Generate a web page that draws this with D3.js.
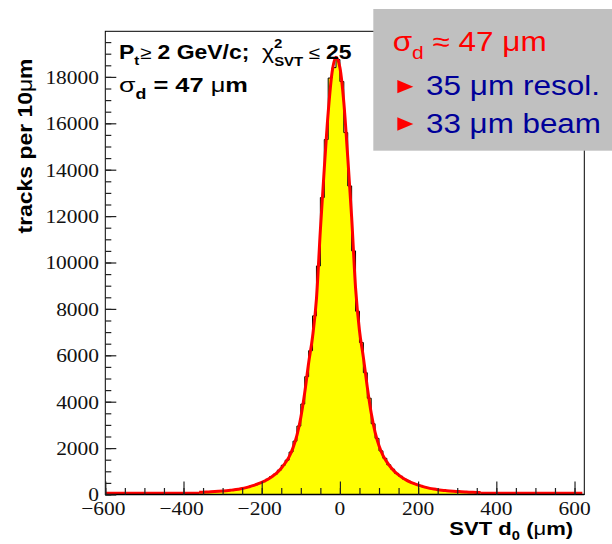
<!DOCTYPE html>
<html>
<head>
<meta charset="utf-8">
<script src="https://cdn.jsdelivr.net/npm/d3@7"></script>
<style>
  html, body { margin: 0; padding: 0; background: #ffffff; }
  svg { display: block; }
</style>
</head>
<body>
<script>
// ---------------- data ----------------
const xTickValues = [-600, -400, -200, 0, 200, 400, 600];
const xTickLabels = ["\u2212600", "\u2212400", "\u2212200", "0", "200", "400", "600"];
const yTickValues = [0, 2000, 4000, 6000, 8000, 10000, 12000, 14000, 16000, 18000];
const yTickLabels = ["0", "2000", "4000", "6000", "8000", "10000", "12000", "14000", "16000", "18000"];

// histogram: 10 um bins starting at -360
const binStart = -360;
const binWidth = 10;
const histCounts = [
  90, 110, 105, 130, 125, 150, 160, 170, 195, 220,
  240, 280, 310, 375, 420, 495, 550, 660, 770, 880,
  1050, 1260, 1480, 1830, 2300, 2950, 3900, 5080, 6200, 7700,
  9850, 12800, 15300, 17950, 18400, 18750, 17800, 15600, 13300, 10500,
  7900, 6550, 5250, 4150, 3050, 2420, 1880, 1560, 1280, 1090,
  910, 790, 665, 585, 500, 440, 375, 335, 280, 250,
  215, 200, 175, 165, 145, 138, 125, 118, 105, 100,
  90, 88
];

// fit curve sampled every 10 um from -360 to 360
const fitStart = -360;
const fitStep = 10;
const fitValues = [
  95, 100, 109, 119, 129, 139, 151, 166, 184, 203,
  228, 257, 296, 345, 395, 454, 523, 602, 700, 818,
  956, 1132, 1357, 1623, 2010, 2545, 3320, 4390, 5670, 6790,
  8430, 11390, 14040, 16460, 18200, 18850,
  18400,
  16900, 14540, 11960, 8910, 7070, 5910, 4630, 3510, 2680, 2105,
  1690, 1407, 1173, 988, 844, 722, 620, 538, 467, 406,
  355, 305, 264, 233, 207, 187, 170, 154, 141, 131,
  121, 111, 101, 95, 90, 86
];
// flat fit level outside the histogram range
const tailX = [[-600, -360], [360, 620]];
const tailValue = 50;

// ---------------- layout ----------------
const W = 612, H = 544;
const x = d3.scaleLinear().domain([-600, 625]).range([105.3, 584.3]);
const y = d3.scaleLinear().domain([0, 20000]).range([494.5, 30.5]);
const frameTop = 31.3;

const svg = d3.select("body").append("svg").attr("width", W).attr("height", H);

// histogram fill + outline
const histPts = histCounts.map((v, i) => ({ x: binStart + i * binWidth, v }));
histPts.push({ x: binStart + histCounts.length * binWidth, v: histCounts[histCounts.length - 1] });

const area = d3.area().curve(d3.curveStepAfter)
  .x(d => x(d.x)).y0(y(0)).y1(d => y(d.v));
svg.append("path").datum(histPts).attr("d", area).attr("fill", "#ffff00").attr("stroke", "none");

const stepLine = d3.line().curve(d3.curveStepAfter).x(d => x(d.x)).y(d => y(d.v));
svg.append("path").datum(histPts).attr("d", stepLine)
  .attr("fill", "none").attr("stroke", "#000").attr("stroke-width", 1);

// fit curve
const fitPts = fitValues.map((v, i) => ({ x: fitStart + i * fitStep, v }));
const fitLine = d3.line().curve(d3.curveMonotoneX).x(d => x(d.x)).y(d => y(d.v));
svg.append("path").datum(fitPts).attr("d", fitLine)
  .attr("fill", "none").attr("stroke", "#ff0000").attr("stroke-width", 3).attr("stroke-linejoin", "round");
tailX.forEach(seg => {
  svg.append("path").datum(seg.map(xx => ({ x: xx, v: tailValue })))
    .attr("d", d3.line().x(d => x(d.x)).y(d => y(d.v)))
    .attr("fill", "none").attr("stroke", "#ff0000").attr("stroke-width", 3);
});

// frame
svg.append("rect").attr("x", x(-600)).attr("y", frameTop)
  .attr("width", x(625) - x(-600)).attr("height", y(0) - frameTop)
  .attr("fill", "none").attr("stroke", "#000").attr("stroke-width", 1);
svg.append("line").attr("x1", x(-600)).attr("x2", x(625)).attr("y1", y(0)).attr("y2", y(0))
  .attr("stroke", "#000").attr("stroke-width", 1.6);

// axes ticks (inside, ROOT style) via d3 axes
const xAxisMajor = d3.axisTop(x).tickValues(xTickValues).tickSize(13).tickFormat("");
const xAxisMinor = d3.axisTop(x).tickValues(d3.range(-600, 625, 50)).tickSize(6.5).tickFormat("");
[xAxisMinor, xAxisMajor].forEach(ax => {
  const g = svg.append("g").attr("transform", `translate(0,${y(0)})`).call(ax);
  g.select(".domain").remove();
  g.selectAll("line").attr("stroke", "#222").attr("stroke-width", 1.2);
});
const yAxisMajor = d3.axisRight(y).tickValues(yTickValues).tickSize(11).tickFormat("");
const yAxisMinor = d3.axisRight(y).tickValues(d3.range(0, 20000, 500)).tickSize(6).tickFormat("");
[yAxisMinor, yAxisMajor].forEach(ax => {
  const g = svg.append("g").attr("transform", `translate(${x(-600)},0)`).call(ax);
  g.select(".domain").remove();
  g.selectAll("line").attr("stroke", "#222").attr("stroke-width", 1.2);
});

// tick labels
const serif = "'Liberation Serif', 'Times New Roman', serif";
yTickValues.forEach((v, i) => {
  svg.append("text").attr("transform", `translate(99,${y(v) + 6.8}) scale(1.1,1)`)
    .attr("text-anchor", "end").attr("font-family", serif).attr("font-size", 19.5)
    .attr("fill", "#111").text(yTickLabels[i]);
});
xTickValues.forEach((v, i) => {
  svg.append("text").attr("transform", `translate(${x(v) - (v < 0 ? 2 : 0)},515) scale(1.1,1)`)
    .attr("text-anchor", "middle").attr("font-family", serif).attr("font-size", 19.5)
    .attr("fill", "#111").text(xTickLabels[i]);
});

// ---------------- rich text helper ----------------
const sans = "'Liberation Sans', Arial, Helvetica, sans-serif";
function richText(parent, pieces, opts) {
  const g = parent.append("g");
  const t = g.append("text").attr("font-family", sans).attr("fill", opts.fill || "#000")
    .attr("text-anchor", opts.anchor || "start");
  pieces.forEach(p => {
    const s = t.append("tspan").text(p.t)
      .attr("font-size", p.s || 20)
      .attr("font-weight", p.b ? "bold" : "normal");
    if (p.dy) s.attr("dy", p.dy);
    if (p.dx) s.attr("dx", p.dx);
    if (p.fill) s.attr("fill", p.fill);
  });
  t.style("white-space", "pre");
  const w = t.node().getBBox().width;
  const sx = opts.width ? opts.width / w : 1;
  g.attr("transform", `translate(${opts.x},${opts.y})${opts.rotate ? ` rotate(${opts.rotate})` : ""} scale(${sx},1)`);
  return g;
}

// y label
richText(svg, [
  { t: "tracks per 10", b: true, s: 20 },
  { t: "\u03bc", s: 20 },
  { t: "m", b: true, s: 20 }
], { x: 32.3, y: 146, rotate: -90, anchor: "middle", width: 175 });

// x label
richText(svg, [
  { t: "SVT d", b: true, s: 18 },
  { t: "0", b: true, s: 12, dy: 5 },
  { t: " (", b: true, s: 18, dy: -5 },
  { t: "\u03bc", s: 18 },
  { t: "m)", b: true, s: 18 }
], { x: 449.3, y: 535, width: 124 });

// inner annotation
richText(svg, [
  { t: "P", b: true, s: 20 },
  { t: "t", b: true, s: 13, dy: 6 },
  { t: "\u2265 ", s: 18, dy: -6, dx: 1 },
  { t: "2 GeV/c;  ", b: true, s: 20 },
  { t: "\u03c7", s: 20 },
  { t: "2", b: true, s: 13, dy: -11 },
  { t: "SVT", b: true, s: 13, dy: 18, dx: -7.2 },
  { t: " \u2264 ", s: 18, dy: -7 },
  { t: "25", b: true, s: 20 }
], { x: 119, y: 59.3, width: 232.7 });

richText(svg, [
  { t: "\u03c3", s: 21 },
  { t: "d", b: true, s: 14, dy: 7 },
  { t: " = 47 ", b: true, s: 20, dy: -7 },
  { t: "\u03bc", s: 20 },
  { t: "m", b: true, s: 20 }
], { x: 119, y: 91.7, width: 129 });

// ---------------- grey box ----------------
svg.append("rect").attr("x", 373.3).attr("y", 9).attr("width", W - 373.3).attr("height", 141.7)
  .attr("fill", "#c0c0c0");

richText(svg, [
  { t: "\u03c3", s: 27 },
  { t: "d", s: 18, dy: 8 },
  { t: " \u2248 47 ", s: 27, dy: -8 },
  { t: "\u03bcm", s: 27 }
], { x: 392.7, y: 50.7, width: 154, fill: "#ff0000" });

const blue = "#000099";
richText(svg, [{ t: "35 \u03bcm resol.", s: 27 }], { x: 426, y: 95, width: 174, fill: blue });
richText(svg, [{ t: "33 \u03bcm beam", s: 27 }], { x: 426, y: 132.7, width: 175, fill: blue });

// red bullets
[[80, 93.3], [117.3, 130.7]].forEach(([t0, t1]) => {
  svg.append("path")
    .attr("d", `M397.3,${t0} L413.3,${(t0 + t1) / 2} L397.3,${t1} Z`)
    .attr("fill", "#ff0000");
});
</script>
</body>
</html>
